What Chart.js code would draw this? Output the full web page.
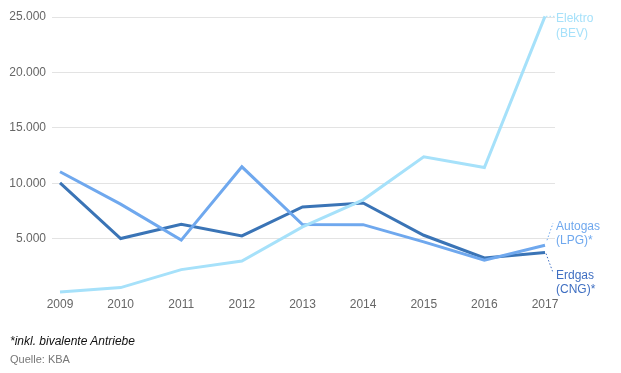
<!DOCTYPE html>
<html>
<head>
<meta charset="utf-8">
<script src="https://cdn.jsdelivr.net/npm/chart.js@4/dist/chart.umd.min.js"></script>
<style>
  html, body { margin: 0; padding: 0; background: #fff; }
  #wrap { position: relative; width: 621px; height: 373px; }
  canvas { position: absolute; left: 0; top: 0; }
  .note { position: absolute; left: 10px; font-family: "Liberation Sans", Arial, sans-serif; white-space: nowrap; }
  #n1 { top: 334px; font-size: 12px; font-style: italic; color: #111; }
  #n2 { top: 353px; font-size: 11px; color: #777; }
</style>
</head>
<body>
<div id="wrap">
  <canvas id="c" width="621" height="373"></canvas>
  <div class="note" id="n1">*inkl. bivalente Antriebe</div>
  <div class="note" id="n2">Quelle: KBA</div>
</div>
<script>
const years = [2009, 2010, 2011, 2012, 2013, 2014, 2015, 2016, 2017];
const elektroBEV = [180, 580, 2200, 2980, 6050, 8500, 12380, 11420, 25060];
const autogasLPG = [11030, 8110, 4860, 11480, 6270, 6260, 4700, 3050, 4400];
const erdgasCNG = [10030, 5010, 6300, 5240, 7860, 8220, 5300, 3250, 3740];
const yTicks = [5000, 10000, 15000, 20000, 25000];
const seriesLabels = [["Elektro", "(BEV)"], ["Autogas", "(LPG)*"], ["Erdgas", "(CNG)*"]];

const colors = ["#a6e1fa", "#6fa8ee", "#3a74b6"];
const labelColors = ["#a6e1fa", "#6fa8ee", "#3f6fc2"];

const toPts = arr => arr.map((v, i) => ({ x: years[i], y: v }));

const endLabels = {
  id: 'endLabels',
  afterDatasetsDraw(chart) {
    const ctx = chart.ctx;
    const xs = chart.scales.x, ys = chart.scales.y;
    const lastX = xs.getPixelForValue(years[years.length - 1]);
    const tx = 556;
    // [dataset index, label first-line offset from point, connector end offset]
    const cfg = [
      { i: 0, dy: 2.5, cx: [[lastX + 1, 0], [tx - 1, 0]] },
      { i: 1, dy: -19, cx: [[lastX + 2, -5], [tx - 3, -22]] },
      { i: 2, dy: 23, cx: [[lastX + 1, 1], [tx - 3, 20]] }
    ];
    const data = [elektroBEV, autogasLPG, erdgasCNG];
    ctx.save();
    ctx.font = '12px "Liberation Sans", Arial, sans-serif';
    ctx.textAlign = 'left';
    ctx.textBaseline = 'middle';
    cfg.forEach(c => {
      const py = ys.getPixelForValue(data[c.i][data[c.i].length - 1]);
      ctx.strokeStyle = labelColors[c.i];
      ctx.lineWidth = 1;
      ctx.setLineDash([1.5, 2]);
      ctx.beginPath();
      ctx.moveTo(c.cx[0][0], py + c.cx[0][1]);
      ctx.lineTo(c.cx[1][0], py + c.cx[1][1]);
      ctx.stroke();
      ctx.setLineDash([]);
      ctx.fillStyle = labelColors[c.i];
      seriesLabels[c.i].forEach((t, k) => {
        ctx.fillText(t, tx, py + c.dy + k * 14.5);
      });
    });
    ctx.restore();
  }
};

new Chart(document.getElementById('c'), {
  type: 'line',
  data: {
    datasets: [
      { label: 'Elektro (BEV)', data: toPts(elektroBEV), borderColor: colors[0] },
      { label: 'Autogas (LPG)*', data: toPts(autogasLPG), borderColor: colors[1] },
      { label: 'Erdgas (CNG)*', data: toPts(erdgasCNG), borderColor: colors[2] }
    ]
  },
  options: {
    responsive: false,
    animation: false,
    devicePixelRatio: 1,
    layout: { padding: { top: 17, right: 66, bottom: 59, left: 0 } },
    elements: {
      line: { borderWidth: 3, tension: 0, fill: false, borderCapStyle: 'butt', borderJoinStyle: 'miter' },
      point: { radius: 0, hoverRadius: 0 }
    },
    datasets: { line: { clip: false } },
    plugins: { legend: { display: false }, tooltip: { enabled: false } },
    scales: {
      x: {
        type: 'linear',
        min: 2008.868,
        max: 2017.165,
        grid: { display: false, drawTicks: false },
        border: { display: false },
        afterFit(s) { s.height = 20; },
        afterBuildTicks(s) { s.ticks = years.map(v => ({ value: v })); },
        ticks: {
          padding: 3,
          color: '#666',
          font: { family: '"Liberation Sans", Arial, sans-serif', size: 12 },
          callback: v => String(v),
          maxRotation: 0,
          autoSkip: false
        }
      },
      y: {
        min: 0,
        max: 25000,
        afterFit(s) { s.width = 52; },
        afterBuildTicks(s) { s.ticks = [{ value: 0 }].concat(yTicks.map(v => ({ value: v }))); },
        grid: {
          drawTicks: false,
          color: ctx => (ctx.tick && ctx.tick.value === 0) ? 'rgba(0,0,0,0)' : '#e3e3e3',
          lineWidth: 1
        },
        border: { display: false },
        ticks: {
          padding: 6,
          color: '#666',
          font: { family: '"Liberation Sans", Arial, sans-serif', size: 12 },
          callback: v => v === 0 ? '' : v.toLocaleString('de-DE')
        }
      }
    }
  },
  plugins: [endLabels]
});
</script>
</body>
</html>
